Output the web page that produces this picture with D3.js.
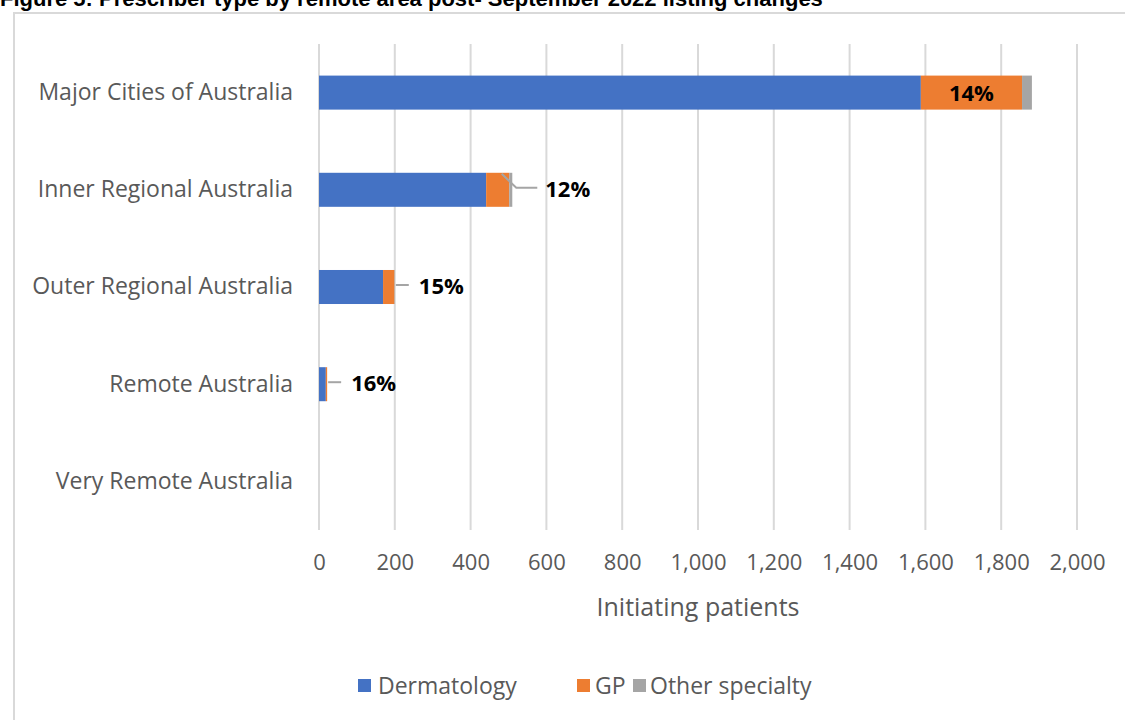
<!DOCTYPE html>
<html>
<head>
<meta charset="utf-8">
<script src="https://cdn.jsdelivr.net/npm/d3@7"></script>
<style>
  body { margin: 0; background: #fff; }
  svg text { font-family: "Open Sans", "Noto Sans", sans-serif; }
</style>
</head>
<body>
<svg width="1125" height="720"></svg>
<script>
// data
var regions = ['Major Cities of Australia', 'Inner Regional Australia', 'Outer Regional Australia',
  'Remote Australia', 'Very Remote Australia'];
var series = ['Dermatology', 'GP', 'Other specialty'];
var dermatology = [1588, 441, 169, 18, 0];
var gp = [267, 61, 30, 3.5, 0];
var other = [26, 8, 1, 0, 0];
var gpShareLabels = ['14%', '12%', '15%', '16%', ''];
var xTicks = [0, 200, 400, 600, 800, 1000, 1200, 1400, 1600, 1800, 2000];
var colors = ['#4472C4', '#ED7D31', '#A5A5A5'];

var svg = d3.select('svg');

// title (cut at top in the source) and chart frame
svg.append('text')
  .attr('x', 0).attr('y', 6)
  .style('font-family', '"Liberation Sans", Arial, sans-serif')
  .style('font-weight', 'bold').style('font-size', '22px')
  .attr('fill', '#000')
  .text('Figure 5: Prescriber type by remote area post- September 2022 listing changes');

svg.append('rect')
  .attr('x', 14).attr('y', 13).attr('width', 1200).attr('height', 800)
  .attr('fill', 'none').attr('stroke', '#d9d9d9').attr('stroke-width', 2);

var rows = regions.map((r, i) => ({region: r, Dermatology: dermatology[i], GP: gp[i], 'Other specialty': other[i], label: gpShareLabels[i]}));
var stacked = d3.stack().keys(series)(rows);

var xScale = d3.scaleLinear().domain([0, 2000]).range([319, 1077]);
var yScale = d3.scaleBand().domain(regions).range([44, 530]).paddingInner(0.65).paddingOuter(0.325);

// gridlines
svg.append('g')
  .selectAll('line')
  .data(xTicks)
  .enter().append('line')
  .attr('x1', d => xScale(d)).attr('x2', d => xScale(d))
  .attr('y1', 44).attr('y2', 530)
  .attr('stroke', '#d9d9d9').attr('stroke-width', 2);

// x axis labels
var xAxis = d3.axisBottom(xScale).tickValues(xTicks).tickFormat(d3.format(',')).tickSize(0).tickPadding(0);
var xg = svg.append('g').attr('transform', 'translate(0,554)').call(xAxis);
xg.select('.domain').remove();
xg.selectAll('text').style('font-family', '"Open Sans", sans-serif').style('font-size', '22px').attr('fill', '#595959');

svg.append('text')
  .attr('x', xScale(1000)).attr('y', 616)
  .attr('text-anchor', 'middle')
  .style('font-size', '25px').attr('fill', '#595959')
  .text('Initiating patients');

// y axis labels
var yAxis = d3.axisLeft(yScale).tickSize(0).tickPadding(26);
var yg = svg.append('g').attr('transform', 'translate(319,0)').call(yAxis);
yg.select('.domain').remove();
yg.selectAll('text').style('font-family', '"Open Sans", sans-serif').style('font-size', '23px').attr('fill', '#595959');

// stacked bars
svg.append('g')
  .selectAll('g')
  .data(stacked)
  .enter().append('g')
  .attr('fill', (d, i) => colors[i])
  .selectAll('rect')
  .data(d => d)
  .enter().append('rect')
  .attr('x', d => xScale(d[0]))
  .attr('y', d => yScale(d.data.region))
  .attr('width', d => xScale(d[1]) - xScale(d[0]))
  .attr('height', yScale.bandwidth());

// GP share labels
var gpLayer = stacked[1];
var labelG = svg.append('g');
gpLayer.forEach((d, i) => {
  if (!d.data.label) return;
  var cy = yScale(d.data.region) + yScale.bandwidth() / 2;
  if (i === 0) {
    labelG.append('text')
      .attr('x', (xScale(d[0]) + xScale(d[1])) / 2).attr('y', cy + 8)
      .attr('text-anchor', 'middle')
      .style('font-size', '22px').style('font-weight', 'bold').attr('fill', '#000')
      .text(d.data.label);
    return;
  }
  var end = xScale(stacked[2][i][1]);
  var path;
  var tx;
  if (i === 1) {
    var mid = (xScale(d[0]) + xScale(d[1])) / 2;
    path = 'M' + (mid + 4) + ',' + (yScale(d.data.region) + 1) + 'L' + (end + 4) + ',' + (cy - 2) + 'H' + (end + 25);
    tx = end + 33;
  } else {
    path = 'M' + (end + 1) + ',' + (cy - 2) + 'H' + (end + 14);
    tx = end + 24;
  }
  labelG.append('path').attr('d', path).attr('fill', 'none').attr('stroke', '#A5A5A5').attr('stroke-width', 2);
  labelG.append('text')
    .attr('x', tx).attr('y', cy + 7)
    .style('font-size', '22px').style('font-weight', 'bold').attr('fill', '#000')
    .text(d.data.label);
});

// legend
var legendX = [358, 577, 633];
var legendPad = [20, 18, 17];
var legend = svg.append('g').attr('transform', 'translate(0,686)');
series.forEach((s, i) => {
  legend.append('rect').attr('x', legendX[i]).attr('y', -7).attr('width', 13).attr('height', 13).attr('fill', colors[i]);
  legend.append('text').attr('x', legendX[i] + legendPad[i]).attr('y', 8)
    .style('font-size', '23px').attr('fill', '#595959').text(s);
});
</script>
</body>
</html>
